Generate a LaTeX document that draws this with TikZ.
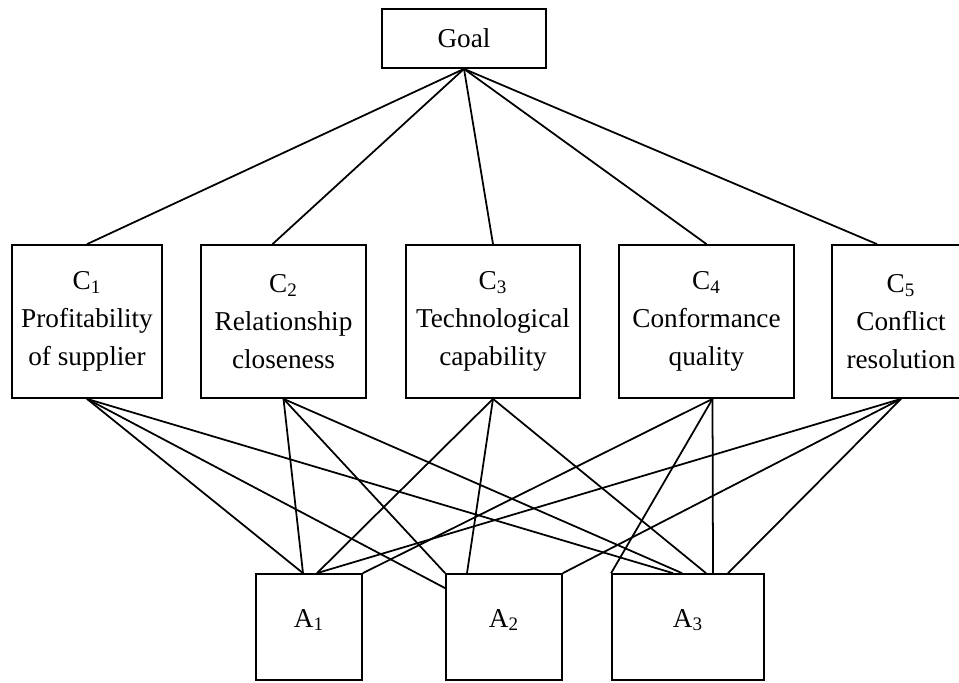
\documentclass[tikz,border=0pt]{standalone}
\usepackage{fontspec}
\setmainfont{Liberation Serif}
\begin{document}
\begin{tikzpicture}[%
      box/.style={%
        draw           = black,
        line width     = 1pt,
        align          = center,
        inner sep      = 0pt,
        font           = \fontsize{15.5}{21.5}\selectfont,
        minimum height = 3.06cm,
      },
      alt/.style={%
        box,
        text height    = 1.06cm,
        text depth     = 1.06cm,
        minimum height = 2.12cm,
      },
      link/.style={line width = 1pt},
      ]
      \useasboundingbox (0,0) rectangle (19.18,-13.64);

      \node[box, minimum width=3.28cm, minimum height=1.18cm] (Goal) at (9.28,-0.77) {Goal};

      \node[box, minimum width=3.0cm]  (C1) at (1.74,-6.43)  {C\textsubscript{1} \\ Profitability \\ of supplier};
      \node[box, minimum width=3.3cm]  (C2) at (5.67,-6.43)  {C\textsubscript{2} \\ Relationship \\ closeness};
      \node[box, minimum width=3.48cm] (C3) at (9.86,-6.43)  {C\textsubscript{3} \\ Technological \\ capability};
      \node[box, minimum width=3.5cm]  (C4) at (14.13,-6.43) {C\textsubscript{4} \\ Conformance \\ quality};
      \node[box, minimum width=2.76cm] (C5) at (18.02,-6.43) {C\textsubscript{5} \\ Conflict \\ resolution};

      \node[alt, minimum width=2.12cm] (A1) at (6.18,-12.54)  {A\textsubscript{1}};
      \node[alt, minimum width=2.32cm] (A2) at (10.08,-12.54) {A\textsubscript{2}};
      \node[alt, minimum width=3.04cm] (A3) at (13.76,-12.54) {A\textsubscript{3}};

      % goal to criteria
      \draw[link] (Goal.south) -- (C1.north);
      \draw[link] (Goal.south) -- ([xshift=-0.22cm]C2.north);
      \draw[link] (Goal.south) -- (C3.north);
      \draw[link] (Goal.south) -- (C4.north);
      \draw[link] (Goal.south) -- ([xshift=-0.48cm]C5.north);

      % criteria to alternatives
      \draw[link] (C1.south) -- ([xshift=-0.12cm]A1.north);
      \draw[link] (C1.south) -- ([yshift=-0.3cm]A2.north west);
      \draw[link] (C1.south) -- ([xshift=-0.3cm]A3.north);
      \draw[link] (C2.south) -- ([xshift=-0.12cm]A1.north);
      \draw[link] (C2.south) -- (A2.north west);
      \draw[link] (C2.south) -- ([xshift=-0.12cm]A3.north);
      \draw[link] (C3.south) -- ([xshift=0.16cm]A1.north);
      \draw[link] (C3.south) -- ([xshift=-0.74cm]A2.north);
      \draw[link] (C3.south) -- ([xshift=0.36cm]A3.north);
      \draw[link] ([xshift=0.12cm]C4.south) -- (A1.north east);
      \draw[link] ([xshift=0.12cm]C4.south) -- (A3.north west);
      \draw[link] ([xshift=0.12cm]C4.south) -- ([xshift=0.5cm]A3.north);
      \draw[link] (C5.south) -- ([xshift=0.16cm]A1.north);
      \draw[link] (C5.south) -- (A2.north east);
      \draw[link] (C5.south) -- ([xshift=0.8cm]A3.north);

    \end{tikzpicture}
\end{document}
